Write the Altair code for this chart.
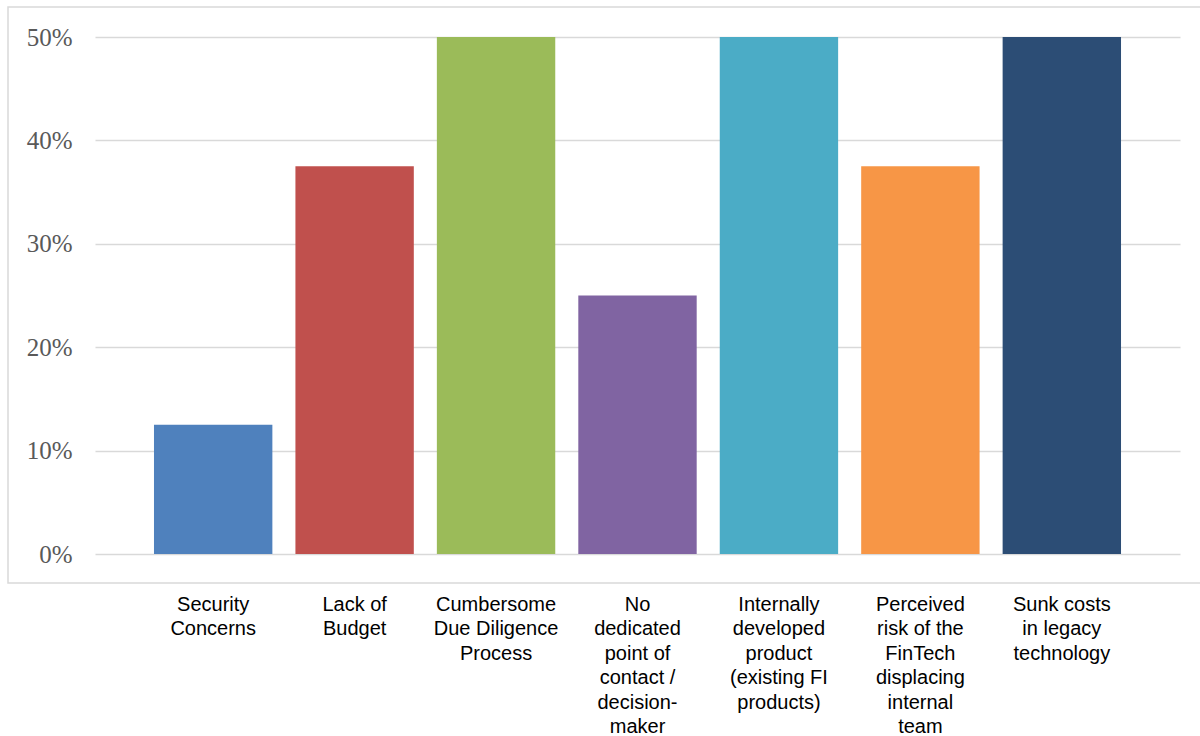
import altair as alt
import pandas as pd

categories = [
    "Security|Concerns",
    "Lack of|Budget",
    "Cumbersome|Due Diligence|Process",
    "No|dedicated|point of|contact /|decision-|maker",
    "Internally|developed|product|(existing FI|products)",
    "Perceived|risk of the|FinTech|displacing|internal|team",
    "Sunk costs|in legacy|technology",
]
values = [0.125, 0.375, 0.50, 0.25, 0.50, 0.375, 0.50]
colors = ["#4F81BD", "#C0504D", "#9BBB59", "#8064A2", "#4BACC6", "#F79646", "#2C4D75"]
y_ticks = [0, 0.1, 0.2, 0.3, 0.4, 0.5]

df = pd.DataFrame({"category": categories, "value": values})

bars = alt.Chart(df).mark_bar().encode(
    x=alt.X(
        "category:N",
        sort=categories,
        scale=alt.Scale(paddingInner=0.163, paddingOuter=0.417),
        axis=alt.Axis(
            title=None,
            labelAngle=0,
            labelExpr="split(datum.label, '|')",
            labelFont="Liberation Sans",
            labelFontSize=20,
            labelColor="#000000",
            labelLineHeight=24.5,
            labelBaseline="top",
            labelPadding=40,
            labelLimit=0,
            labelOverlap=False,
            labelBound=False,
            ticks=False,
            domain=False,
            grid=False,
        ),
    ),
    y=alt.Y(
        "value:Q",
        scale=alt.Scale(domain=[0, 0.5], nice=False),
        axis=alt.Axis(
            title=None,
            values=y_ticks,
            format=".0%",
            labelFont="Liberation Serif",
            labelFontSize=25,
            labelColor="#595959",
            labelPadding=23,
            ticks=False,
            domain=False,
            grid=True,
            gridColor="#D9D9D9",
            gridWidth=1.5,
        ),
    ),
    color=alt.Color("category:N", sort=categories,
                    scale=alt.Scale(domain=categories, range=colors), legend=None),
)

box = alt.Chart(pd.DataFrame({"a": [0]})).mark_rect(
    fill=None, stroke="#D9D9D9", strokeWidth=1.5
).encode(
    x=alt.value(-87), x2=alt.value(1200), y=alt.value(-30), y2=alt.value(546)
)

chart = alt.layer(box, bars).properties(
    width=1085,
    height=517,
    autosize=alt.AutoSizeParams(type="none"),
    padding={"left": 95, "top": 37, "right": 20, "bottom": 182},
    background="#FFFFFF",
).configure_view(stroke=None)

chart.save("out.html", embed_options={"renderer": "svg", "actions": False})
